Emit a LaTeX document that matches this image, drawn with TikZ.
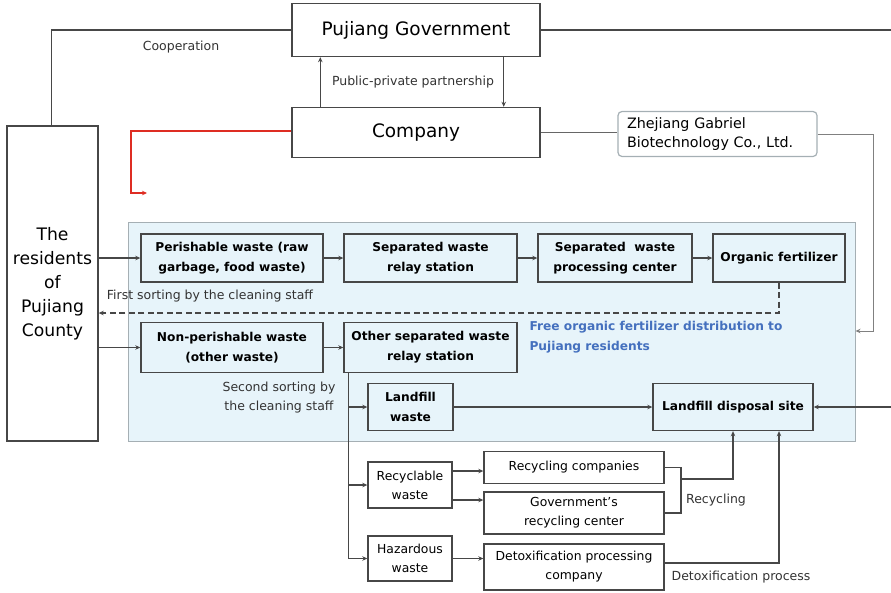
\documentclass[tikz,border=0pt]{standalone}
\usepackage{fontspec}
\setmainfont{DejaVu Sans}
\usetikzlibrary{arrows.meta,positioning}
\definecolor{areablue}{RGB}{231,244,250}
\definecolor{areaedge}{RGB}{165,175,180}
\definecolor{txtblue}{RGB}{68,112,190}
\definecolor{redline}{RGB}{222,45,35}

\begin{document}
\begin{tikzpicture}[x=1pt,y=-1pt,
    box/.style={draw=black!72, line width=1.4pt, inner sep=2pt, align=center},
    bbox/.style={box, font=\bfseries\fontsize{12.2}{20}\selectfont},
    nbox/.style={box, font=\fontsize{12.4}{19}\selectfont},
    lbl/.style={text=black!80, font=\fontsize{12.5}{19}\selectfont},
    link/.style={draw=black!72, line width=1.2pt},
    arr/.style={link, -{Stealth[length=5pt,width=4.5pt]}}]
  \useasboundingbox (0,0) rectangle (891,592);

  % shaded area
  \node[draw=areaedge, fill=areablue, line width=1pt, minimum width=727, minimum height=219] (area) at (491.5,331.5) {};

  % top part
  \node[box, minimum width=248, minimum height=53, font=\fontsize{18.5}{22}\selectfont] (gov) at (416,30) {Pujiang Government};
  \node[box, minimum width=248, minimum height=50, font=\fontsize{18.5}{22}\selectfont] (com) at (416,132.5) {Company};
  \node[box, minimum width=91, minimum height=315, font=\fontsize{17.2}{24}\selectfont] (res) at (52.5,283.5) {The\\residents\\of\\Pujiang\\County};
  \node[draw=areaedge, rounded corners=4pt, line width=1.2pt, text width=181, inner xsep=9, minimum height=45, align=left, font=\fontsize{14.3}{19}\selectfont] (zgb) at (717.5,134) {Zhejiang Gabriel\\Biotechnology Co., Ltd.};

  % waste boxes
  \node[bbox, minimum width=182, minimum height=48] (peri) at (232,258) {Perishable waste (raw\\garbage, food waste)};
  \node[bbox, minimum width=173, minimum height=48] (rel) at (430.5,258) {Separated waste\\relay station};
  \node[bbox, minimum width=154, minimum height=48] (proc) at (615,258) {Separated\ \ waste\\processing center};
  \node[bbox, minimum width=132, minimum height=48] (org) at (779,258) {Organic fertilizer};
  \node[bbox, minimum width=182, minimum height=50] (non) at (232,347.5) {Non-perishable waste\\(other waste)};
  \node[bbox, minimum width=173, minimum height=50] (orel) at (430.5,347.5) {Other separated waste\\relay station};
  \node[bbox, minimum width=85, minimum height=47] (lfw) at (410.5,407) {Landfill\\waste};
  \node[bbox, minimum width=160, minimum height=47] (lds) at (733,407) {Landfill disposal site};
  \node[nbox, minimum width=84, minimum height=46] (rcw) at (410,485) {Recyclable\\waste};
  \node[nbox, minimum width=84, minimum height=45] (haz) at (410,558.5) {Hazardous\\waste};
  \node[nbox, minimum width=180, minimum height=32] (rcc) at (574,467.5) {Recycling companies};
  \node[nbox, minimum width=180, minimum height=42] (gvc) at (574,513) {Government’s\\recycling center};
  \node[nbox, minimum width=180, minimum height=46] (dtx) at (574,567) {Detoxification processing\\company};

  % labels
  \node[lbl] (coop) at (181,47) {Cooperation};
  \node[lbl] (ppp) at (413,82) {Public-private partnership};
  \node[lbl] (first) at (210,296) {First sorting by the cleaning staff};
  \node[lbl, align=center] (second) at (279,398) {Second sorting by\\the cleaning staff};
  \node[text=txtblue, align=left, anchor=west, font=\bfseries\fontsize{12.2}{20}\selectfont] (free) at (526,337) {Free organic fertilizer distribution to\\Pujiang residents};
  \node[lbl] (recy) at (716,500) {Recycling};
  \node[lbl] (detox) at (741,577) {Detoxification process};

  \coordinate (edge) at (893,30);
  \coordinate (redend) at (147,193);
  \coordinate (fert) at (area.east |- 0,331);
  \coordinate (trunk) at ([xshift=5]orel.south west);
  \coordinate (brk) at (681,479);

  % connectors, top
  \draw[link] ([xshift=45]res.north west) |- (gov.west);
  \draw[arr] (gov.east) -- (edge) |- (lds.east);
  \draw[arr] ([xshift=29]com.north west) -- ([xshift=29]gov.south west);
  \draw[arr] ([xshift=-37]gov.south east) -- ([xshift=-37]com.north east);
  \draw[draw=redline, line width=1.3pt, -{Stealth[length=5pt,width=4.5pt]}] ([yshift=1.5]com.west) -| ([xshift=-16]redend) -- (redend);
  \draw[draw=black!60, line width=1.2pt] (com.east) -- (com.east -| zgb.west);
  \draw[draw=black!50, line width=1pt, -{Stealth[length=5pt,width=4.5pt]}] (zgb.east) -| ([xshift=18]fert) -- (fert);

  % connectors, waste flow
  \draw[arr] (res.east |- peri.west) -- (peri.west);
  \draw[arr] (peri) -- (rel);
  \draw[arr] (rel) -- (proc);
  \draw[arr] (proc) -- (org);
  \draw[arr, line width=1.3pt, dash pattern=on 6pt off 3.5pt] (org.south) |- (res.east |- 0,313);
  \draw[arr] (res.east |- non.west) -- (non.west);
  \draw[arr] (non) -- (orel);
  \draw[arr] (trunk) |- (haz.west);
  \draw[arr] (trunk |- lfw.west) -- (lfw.west);
  \draw[arr] (trunk |- rcw.west) -- (rcw.west);
  \draw[arr] (lfw) -- (lds);
  \draw[arr] ([yshift=14]rcw.east) -- ([yshift=-3.5]rcc.west);
  \draw[arr] ([yshift=-15]rcw.east) -- ([yshift=13]gvc.west);
  \draw[arr] (haz.east) -- (haz.east -| dtx.west);
  \draw[link] (rcc.east) -| (brk) |- (gvc.east);
  \draw[arr] (brk) -| (lds.south);
  \draw[arr] ([yshift=4]dtx.east) -| ([xshift=46]lds.south);
\end{tikzpicture}
\end{document}
